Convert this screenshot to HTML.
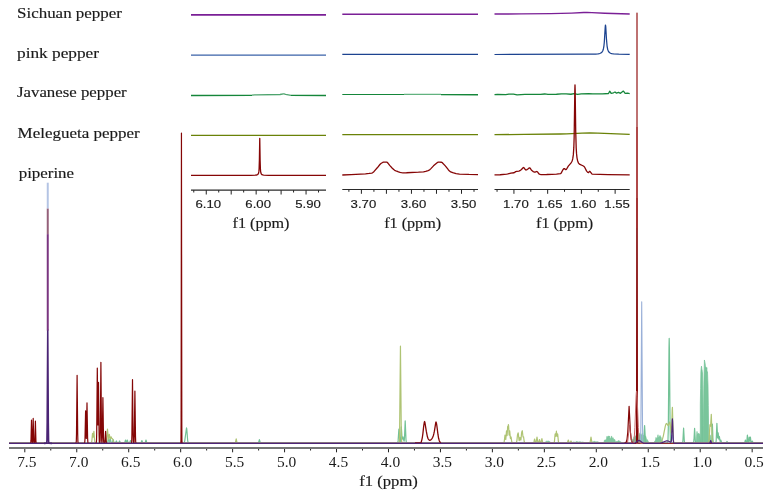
<!DOCTYPE html>
<html><head><meta charset="utf-8"><style>
html,body{margin:0;padding:0;background:#fff;width:769px;height:495px;overflow:hidden;}
svg{display:block;will-change:transform;}
</style></head><body>
<svg width="769" height="495" viewBox="0 0 769 495">
<rect width="769" height="495" fill="#fff"/>
<text x="17.0" y="18.3" font-family="Liberation Serif" font-size="14.3" fill="#1a1a1a" stroke="#1a1a1a" stroke-width="0.15" textLength="105.0" lengthAdjust="spacingAndGlyphs">Sichuan pepper</text>
<text x="17.0" y="57.6" font-family="Liberation Serif" font-size="14.3" fill="#1a1a1a" stroke="#1a1a1a" stroke-width="0.15" textLength="82.0" lengthAdjust="spacingAndGlyphs">pink pepper</text>
<text x="17.0" y="97.4" font-family="Liberation Serif" font-size="14.3" fill="#1a1a1a" stroke="#1a1a1a" stroke-width="0.15" textLength="109.7" lengthAdjust="spacingAndGlyphs">Javanese pepper</text>
<text x="17.6" y="138.1" font-family="Liberation Serif" font-size="14.3" fill="#1a1a1a" stroke="#1a1a1a" stroke-width="0.15" textLength="122.0" lengthAdjust="spacingAndGlyphs">Melegueta pepper</text>
<text x="18.7" y="177.8" font-family="Liberation Serif" font-size="14.3" fill="#1a1a1a" stroke="#1a1a1a" stroke-width="0.15" textLength="55.4" lengthAdjust="spacingAndGlyphs">piperine</text>
<path d="M191.00,14.90 L326.00,14.90" fill="none" stroke="#7a1f96" stroke-width="1.8" stroke-linejoin="round" />
<path d="M191.00,55.10 L326.00,55.10" fill="none" stroke="#3a62a8" stroke-width="1.35" stroke-linejoin="round" />
<path d="M191.00,95.50 L252.00,95.40" fill="none" stroke="#15863a" stroke-width="1.3" stroke-linejoin="round" />
<path d="M291.00,95.40 L326.00,95.50" fill="none" stroke="#15863a" stroke-width="1.3" stroke-linejoin="round" />
<path d="M252.00,95.20 L254.80,94.87 L256.60,94.78 L280.00,94.50 L283.40,93.80 L284.00,93.86 L285.60,94.32 L291.00,95.30" fill="none" stroke="#4ea46e" stroke-width="1.3" stroke-linejoin="round" />
<path d="M191.00,135.40 L326.00,135.40" fill="none" stroke="#6a8208" stroke-width="1.3" stroke-linejoin="round" />
<path d="M191.00,175.40 L250.80,175.31 L255.60,175.16 L256.71,174.99 L257.47,174.72 L258.15,174.09 L258.59,173.03 L258.91,171.16 L259.11,168.68 L259.39,160.19 L259.75,138.35 L260.11,160.18 L260.40,168.85 L260.63,171.50 L260.91,173.03 L261.35,174.09 L262.00,174.70 L262.71,174.97 L263.80,175.14 L268.40,175.30 L326.00,175.30" fill="none" stroke="#860606" stroke-width="1.3" stroke-linejoin="round" />
<line x1="191.0" y1="190.2" x2="326.0" y2="190.2" stroke="#2a2a2a" stroke-width="1.2"/>
<line x1="318.52" y1="190.2" x2="318.52" y2="192.5" stroke="#222" stroke-width="1"/>
<line x1="306.05" y1="190.2" x2="306.05" y2="194.5" stroke="#222" stroke-width="1"/>
<line x1="293.57" y1="190.2" x2="293.57" y2="192.5" stroke="#222" stroke-width="1"/>
<line x1="281.10" y1="190.2" x2="281.10" y2="194.5" stroke="#222" stroke-width="1"/>
<line x1="268.62" y1="190.2" x2="268.62" y2="192.5" stroke="#222" stroke-width="1"/>
<line x1="256.15" y1="190.2" x2="256.15" y2="194.5" stroke="#222" stroke-width="1"/>
<line x1="243.67" y1="190.2" x2="243.67" y2="192.5" stroke="#222" stroke-width="1"/>
<line x1="231.20" y1="190.2" x2="231.20" y2="194.5" stroke="#222" stroke-width="1"/>
<line x1="218.72" y1="190.2" x2="218.72" y2="192.5" stroke="#222" stroke-width="1"/>
<line x1="206.25" y1="190.2" x2="206.25" y2="194.5" stroke="#222" stroke-width="1"/>
<line x1="193.77" y1="190.2" x2="193.77" y2="192.5" stroke="#222" stroke-width="1"/>
<text x="208.25" y="207.6" text-anchor="middle" font-family="Liberation Sans" font-size="10.5" fill="#1a1a1a" stroke="#1a1a1a" stroke-width="0.15" textLength="25.6" lengthAdjust="spacingAndGlyphs">6.10</text>
<text x="258.15" y="207.6" text-anchor="middle" font-family="Liberation Sans" font-size="10.5" fill="#1a1a1a" stroke="#1a1a1a" stroke-width="0.15" textLength="25.6" lengthAdjust="spacingAndGlyphs">6.00</text>
<text x="308.05" y="207.6" text-anchor="middle" font-family="Liberation Sans" font-size="10.5" fill="#1a1a1a" stroke="#1a1a1a" stroke-width="0.15" textLength="25.6" lengthAdjust="spacingAndGlyphs">5.90</text>
<text x="261.00" y="228.4" text-anchor="middle" font-family="Liberation Serif" font-size="14" fill="#1a1a1a" stroke="#1a1a1a" stroke-width="0.15" textLength="57" lengthAdjust="spacingAndGlyphs">f1 (ppm)</text>
<path d="M342.30,14.20 L478.00,14.20" fill="none" stroke="#7a1f96" stroke-width="1.6" stroke-linejoin="round" />
<path d="M342.30,54.40 L478.00,54.40" fill="none" stroke="#1c4390" stroke-width="1.2" stroke-linejoin="round" />
<path d="M342.30,94.50 L404.00,94.50" fill="none" stroke="#15863a" stroke-width="1.2" stroke-linejoin="round" />
<path d="M404.00,94.30 L441.00,94.30" fill="none" stroke="#62b27f" stroke-width="1.3" stroke-linejoin="round" />
<path d="M441.00,94.60 L478.00,94.70" fill="none" stroke="#15863a" stroke-width="1.4" stroke-linejoin="round" />
<path d="M342.30,134.60 L478.00,134.60" fill="none" stroke="#6a8208" stroke-width="1.3" stroke-linejoin="round" />
<path d="M342.30,175.00 L351.10,174.63 L365.50,173.79 L369.10,173.47 L371.90,173.05 L372.90,172.53 L374.10,171.42 L377.50,167.54 L379.90,164.53 L380.70,163.70 L381.30,163.22 L382.70,162.45 L383.50,162.16 L384.10,162.10 L386.70,162.20 L387.30,162.45 L388.10,163.27 L389.70,165.39 L392.30,168.19 L393.70,169.55 L394.70,170.29 L396.70,171.22 L398.50,171.93 L400.10,172.42 L401.50,172.70 L402.90,172.80 L406.50,172.74 L418.50,172.22 L423.50,171.82 L425.70,171.40 L428.10,170.56 L429.10,170.10 L429.70,169.71 L430.90,168.61 L433.50,165.83 L437.10,162.70 L437.70,162.35 L438.30,162.14 L439.50,162.11 L441.50,162.23 L442.30,162.68 L445.30,165.85 L448.30,169.72 L449.50,171.06 L450.70,171.96 L452.70,172.70 L456.10,173.60 L459.50,174.07 L468.90,174.47 L478.00,174.60" fill="none" stroke="#860606" stroke-width="1.3" stroke-linejoin="round" />
<line x1="342.3" y1="189.5" x2="478.0" y2="189.5" stroke="#2a2a2a" stroke-width="1.2"/>
<line x1="474.01" y1="189.5" x2="474.01" y2="191.8" stroke="#222" stroke-width="1"/>
<line x1="461.50" y1="189.5" x2="461.50" y2="193.8" stroke="#222" stroke-width="1"/>
<line x1="448.99" y1="189.5" x2="448.99" y2="191.8" stroke="#222" stroke-width="1"/>
<line x1="436.47" y1="189.5" x2="436.47" y2="193.8" stroke="#222" stroke-width="1"/>
<line x1="423.96" y1="189.5" x2="423.96" y2="191.8" stroke="#222" stroke-width="1"/>
<line x1="411.45" y1="189.5" x2="411.45" y2="193.8" stroke="#222" stroke-width="1"/>
<line x1="398.94" y1="189.5" x2="398.94" y2="191.8" stroke="#222" stroke-width="1"/>
<line x1="386.42" y1="189.5" x2="386.42" y2="193.8" stroke="#222" stroke-width="1"/>
<line x1="373.91" y1="189.5" x2="373.91" y2="191.8" stroke="#222" stroke-width="1"/>
<line x1="361.40" y1="189.5" x2="361.40" y2="193.8" stroke="#222" stroke-width="1"/>
<line x1="348.89" y1="189.5" x2="348.89" y2="191.8" stroke="#222" stroke-width="1"/>
<text x="363.40" y="207.6" text-anchor="middle" font-family="Liberation Sans" font-size="10.5" fill="#1a1a1a" stroke="#1a1a1a" stroke-width="0.15" textLength="25.6" lengthAdjust="spacingAndGlyphs">3.70</text>
<text x="413.45" y="207.6" text-anchor="middle" font-family="Liberation Sans" font-size="10.5" fill="#1a1a1a" stroke="#1a1a1a" stroke-width="0.15" textLength="25.6" lengthAdjust="spacingAndGlyphs">3.60</text>
<text x="463.50" y="207.6" text-anchor="middle" font-family="Liberation Sans" font-size="10.5" fill="#1a1a1a" stroke="#1a1a1a" stroke-width="0.15" textLength="25.6" lengthAdjust="spacingAndGlyphs">3.50</text>
<text x="412.65" y="228.4" text-anchor="middle" font-family="Liberation Serif" font-size="14" fill="#1a1a1a" stroke="#1a1a1a" stroke-width="0.15" textLength="57" lengthAdjust="spacingAndGlyphs">f1 (ppm)</text>
<path d="M494.50,14.00 L521.30,13.91 L550.70,13.64 L571.70,13.10 L583.70,12.57 L587.10,12.50 L591.90,12.59 L604.70,13.19 L629.70,14.00" fill="none" stroke="#7a1f96" stroke-width="1.4" stroke-linejoin="round" />
<path d="M494.50,54.50 L587.10,54.21 L595.50,54.01 L597.90,53.81 L599.50,53.52 L600.30,53.26 L601.10,52.87 L602.10,51.98 L602.54,51.31 L602.90,50.54 L603.50,48.46 L603.94,45.78 L604.30,42.31 L605.22,27.15 L605.38,25.44 L605.50,25.02 L605.74,26.62 L606.50,39.67 L607.06,45.79 L607.42,48.07 L607.82,49.73 L608.34,51.09 L608.94,52.05 L609.70,52.76 L610.70,53.29 L611.90,53.64 L613.50,53.89 L618.70,54.19 L629.70,54.35" fill="none" stroke="#1c4390" stroke-width="1.25" stroke-linejoin="round" />
<path d="M494.50,94.60 L497.50,94.34 L505.70,94.61 L508.90,94.04 L513.50,94.21 L517.10,94.84 L524.90,94.46 L532.90,94.28 L540.50,94.42 L544.70,93.98 L547.90,94.45 L551.90,94.29 L556.50,94.24 L561.50,93.91 L566.10,93.92 L570.90,94.26 L574.10,93.57 L577.50,94.28 L581.30,93.95 L588.70,93.63 L592.90,93.80 L602.50,93.96 L608.50,93.50 L609.70,91.19 L609.90,91.19 L610.90,93.11 L611.10,93.28 L613.50,92.80 L614.90,92.05 L615.10,92.08 L616.50,93.20 L618.50,92.40 L620.50,93.30 L623.30,91.08 L623.50,91.13 L625.10,93.27 L625.30,93.39 L627.50,93.23 L629.70,93.60" fill="none" stroke="#15863a" stroke-width="1.3" stroke-linejoin="round" />
<path d="M494.50,134.60 L524.50,134.45 L560.30,134.00 L566.70,133.81 L582.10,133.15 L589.70,133.00 L597.90,133.15 L629.70,134.30" fill="none" stroke="#6a8208" stroke-width="1.3" stroke-linejoin="round" />
<path d="M494.50,174.89 L500.10,174.74 L506.70,174.19 L507.90,173.97 L510.90,173.16 L514.10,172.77 L515.70,171.63 L516.70,171.38 L518.90,171.05 L519.90,170.72 L521.50,169.51 L522.90,167.80 L523.50,167.49 L523.70,167.54 L524.10,167.88 L525.30,169.60 L525.70,169.94 L525.90,169.99 L526.30,169.92 L526.90,169.61 L527.90,168.95 L529.10,167.91 L529.50,167.79 L529.70,167.84 L530.10,168.23 L531.30,169.99 L532.50,171.04 L533.30,171.59 L534.50,172.10 L535.10,172.18 L536.50,171.53 L536.90,171.49 L537.50,171.97 L538.90,173.85 L540.10,174.37 L541.10,174.57 L546.70,174.52 L551.90,174.35 L556.50,174.06 L560.50,173.64 L560.90,173.37 L561.30,172.85 L562.90,169.82 L563.70,168.74 L564.10,168.56 L564.30,168.59 L565.70,169.63 L566.10,169.60 L566.50,169.25 L568.30,166.11 L570.90,163.08 L571.88,161.50 L572.36,160.25 L572.72,158.89 L573.32,154.88 L573.80,147.91 L574.16,136.99 L574.84,90.03 L575.00,84.80 L575.16,90.03 L575.72,131.38 L576.20,148.10 L576.56,153.90 L577.04,158.07 L577.68,161.00 L578.08,162.13 L578.56,163.09 L579.10,163.82 L579.90,164.47 L582.90,165.75 L583.70,166.25 L584.30,166.76 L584.90,167.69 L586.50,170.89 L587.30,171.90 L587.90,172.49 L588.30,172.64 L588.50,172.56 L589.30,171.54 L589.50,171.39 L589.70,171.38 L590.30,171.82 L591.70,173.74 L592.30,174.11 L599.70,174.47 L608.10,174.71 L629.70,174.89" fill="none" stroke="#860606" stroke-width="1.3" stroke-linejoin="round" />
<line x1="494.5" y1="189.5" x2="629.7" y2="189.5" stroke="#2a2a2a" stroke-width="1.2"/>
<line x1="615.13" y1="189.5" x2="615.13" y2="193.8" stroke="#222" stroke-width="1"/>
<line x1="598.27" y1="189.5" x2="598.27" y2="191.8" stroke="#222" stroke-width="1"/>
<line x1="581.40" y1="189.5" x2="581.40" y2="193.8" stroke="#222" stroke-width="1"/>
<line x1="564.53" y1="189.5" x2="564.53" y2="191.8" stroke="#222" stroke-width="1"/>
<line x1="547.66" y1="189.5" x2="547.66" y2="193.8" stroke="#222" stroke-width="1"/>
<line x1="530.80" y1="189.5" x2="530.80" y2="191.8" stroke="#222" stroke-width="1"/>
<line x1="513.93" y1="189.5" x2="513.93" y2="193.8" stroke="#222" stroke-width="1"/>
<line x1="497.06" y1="189.5" x2="497.06" y2="191.8" stroke="#222" stroke-width="1"/>
<text x="515.93" y="207.6" text-anchor="middle" font-family="Liberation Sans" font-size="10.5" fill="#1a1a1a" stroke="#1a1a1a" stroke-width="0.15" textLength="25.6" lengthAdjust="spacingAndGlyphs">1.70</text>
<text x="549.67" y="207.6" text-anchor="middle" font-family="Liberation Sans" font-size="10.5" fill="#1a1a1a" stroke="#1a1a1a" stroke-width="0.15" textLength="25.6" lengthAdjust="spacingAndGlyphs">1.65</text>
<text x="583.40" y="207.6" text-anchor="middle" font-family="Liberation Sans" font-size="10.5" fill="#1a1a1a" stroke="#1a1a1a" stroke-width="0.15" textLength="25.6" lengthAdjust="spacingAndGlyphs">1.60</text>
<text x="617.13" y="207.6" text-anchor="middle" font-family="Liberation Sans" font-size="10.5" fill="#1a1a1a" stroke="#1a1a1a" stroke-width="0.15" textLength="25.6" lengthAdjust="spacingAndGlyphs">1.55</text>
<text x="564.60" y="228.4" text-anchor="middle" font-family="Liberation Serif" font-size="14" fill="#1a1a1a" stroke="#1a1a1a" stroke-width="0.15" textLength="57" lengthAdjust="spacingAndGlyphs">f1 (ppm)</text>
<path d="M9.00,442.75 L107.00,442.75 L107.40,442.64 L107.70,442.11 L108.50,438.00 L109.30,441.94 L109.40,442.07 L109.60,441.83 L110.30,439.00 L111.10,442.24 L111.30,442.59 L111.70,442.74 L112.20,442.70 L112.50,442.32 L113.20,439.60 L113.90,442.32 L114.10,442.63 L114.50,442.75 L115.60,442.62 L116.40,441.00 L117.00,442.35 L117.40,442.72 L118.80,442.62 L119.60,441.00 L120.20,442.35 L120.50,442.69 L124.40,442.73 L124.80,442.38 L125.50,440.00 L126.30,442.50 L126.50,442.50 L126.70,442.11 L127.30,440.00 L128.00,442.38 L128.20,442.65 L128.60,442.75 L129.40,442.73 L129.70,442.58 L130.50,440.50 L131.20,442.45 L131.60,442.73 L140.80,442.73 L141.20,442.45 L141.90,440.50 L142.50,442.23 L142.80,442.67 L144.90,442.73 L145.30,442.38 L146.00,440.00 L146.70,442.38 L146.90,442.65 L147.20,442.74 L183.70,442.74 L184.30,442.42 L184.70,441.11 L186.50,427.96 L186.80,429.22 L187.70,440.82 L188.10,442.40 L188.70,442.74 L258.00,442.74 L258.40,442.61 L258.60,442.32 L259.40,439.60 L260.20,442.32 L260.50,442.68 L260.90,442.75 L397.30,442.75 L397.60,442.68 L397.80,442.44 L398.10,440.89 L398.90,429.00 L399.70,440.88 L400.00,442.36 L400.20,442.32 L400.30,442.03 L400.60,439.34 L401.30,426.90 L402.10,438.75 L402.30,439.15 L402.80,437.30 L403.00,437.00 L403.10,437.08 L403.90,440.77 L404.10,441.18 L404.20,441.01 L404.50,437.77 L405.20,420.89 L406.00,439.79 L406.30,442.25 L406.50,442.64 L406.80,442.74 L643.00,442.74 L643.30,442.66 L643.50,442.36 L643.80,440.43 L644.60,425.60 L645.40,440.43 L645.60,442.00 L645.90,442.66 L667.30,442.74 L667.60,442.56 L667.80,441.92 L668.00,439.77 L668.30,428.63 L669.00,348.21 L669.20,338.40 L669.40,348.21 L670.10,428.63 L670.40,439.77 L670.60,441.92 L670.80,442.56 L671.40,442.75 L682.50,442.65 L682.70,442.21 L682.90,440.77 L683.60,428.10 L684.30,440.77 L684.50,442.21 L684.80,442.71 L693.10,442.75 L693.60,442.51 L694.00,439.45 L694.60,428.40 L695.30,440.81 L695.50,442.22 L695.70,442.65 L711.30,442.73 L711.60,442.22 L711.80,440.24 L712.40,424.20 L712.90,438.12 L713.20,442.22 L713.50,442.73 L715.70,442.70 L716.00,442.04 L716.20,440.12 L716.90,423.29 L717.60,437.87 L718.20,432.96 L718.80,439.07 L718.90,439.18 L719.00,438.78 L719.40,436.47 L720.10,441.31 L720.20,441.40 L720.30,441.26 L720.80,440.00 L721.50,442.16 L721.90,442.69 L725.90,442.72 L726.30,442.48 L727.00,441.50 L727.80,442.58 L728.30,442.74 L744.40,442.74 L744.80,442.38 L745.40,440.00 L746.00,442.38 L746.40,442.71 L746.60,442.53 L746.80,441.70 L747.40,435.00 L748.00,441.70 L748.30,442.60 L748.60,441.97 L749.20,437.00 L749.80,441.19 L750.40,437.00 L751.00,441.97 L751.30,442.68 L751.70,442.51 L752.30,441.00 L752.90,442.51 L753.20,442.73 L763.00,442.75" fill="none" stroke="#72c296" stroke-width="1.2" stroke-linejoin="round" />
<path d="M102.50,442.75 L103.00,441.75 L103.50,441.35 L104.00,440.05 L104.50,440.94 L105.00,439.99 L105.50,440.57 L106.00,441.48 L106.50,441.59 L107.00,442.75 Z" fill="#72c296" fill-opacity="0.9" stroke="#72c296" stroke-width="0.6" stroke-linejoin="round"/>
<path d="M544.00,442.75 L544.50,442.43 L545.00,441.96 L545.50,442.00 L546.00,441.83 L546.50,441.34 L547.00,440.76 L547.50,441.58 L548.00,441.49 L548.50,441.10 L549.00,440.96 L549.50,441.57 L550.00,441.98 L550.50,442.08 L551.00,442.75 Z" fill="#72c296" fill-opacity="0.9" stroke="#72c296" stroke-width="0.6" stroke-linejoin="round"/>
<path d="M603.50,442.75 L604.00,441.94 L604.50,440.04 L605.00,440.30 L605.50,440.11 L606.00,439.74 L606.50,438.65 L607.00,436.22 L607.50,438.46 L608.00,436.39 L608.50,435.86 L609.00,436.97 L609.50,436.04 L610.00,438.42 L610.50,438.49 L611.00,437.91 L611.50,435.94 L612.00,437.39 L612.50,438.23 L613.00,437.65 L613.50,438.66 L614.00,439.68 L614.50,439.18 L615.00,440.30 L615.50,441.76 L616.00,442.75 Z" fill="#72c296" fill-opacity="0.9" stroke="#72c296" stroke-width="0.6" stroke-linejoin="round"/>
<path d="M631.00,442.75 L631.50,441.58 L632.00,440.79 L632.50,439.35 L633.00,438.87 L633.50,439.47 L634.00,436.64 L634.50,439.20 L635.00,437.62 L635.50,435.69 L636.00,438.12 L636.50,436.16 L637.00,438.23 L637.50,434.63 L638.00,433.85 L638.50,434.75 L639.00,432.86 L639.50,436.08 L640.00,433.80 L640.50,434.42 L641.00,434.58 L641.50,435.42 L642.00,433.42 L642.50,433.12 L643.00,435.94 L643.50,435.28 L644.00,438.55 L644.50,435.94 L645.00,436.67 L645.50,435.89 L646.00,437.18 L646.50,439.48 L647.00,439.73 L647.50,439.77 L648.00,441.52 L648.50,441.68 L649.00,442.75 Z" fill="#72c296" fill-opacity="0.9" stroke="#72c296" stroke-width="0.6" stroke-linejoin="round"/>
<path d="M654.00,442.75 L654.50,441.58 L655.00,440.84 L655.50,440.33 L656.00,437.39 L656.50,439.07 L657.00,438.18 L657.50,437.21 L658.00,434.72 L658.50,438.42 L659.00,436.73 L659.50,436.49 L660.00,435.45 L660.50,436.38 L661.00,437.07 L661.50,439.72 L662.00,440.23 L662.50,441.35 L663.00,442.75 Z" fill="#72c296" fill-opacity="0.9" stroke="#72c296" stroke-width="0.6" stroke-linejoin="round"/>
<path d="M696.00,442.75 L696.50,436.21 L697.00,431.43 L697.50,434.88 L698.00,433.74 L698.50,433.15 L699.00,433.94 L699.50,433.91 L700.00,436.54 L700.50,441.59 L700.60,442.75 Z" fill="#72c296" fill-opacity="0.9" stroke="#72c296" stroke-width="0.6" stroke-linejoin="round"/>
<path d="M708.30,442.75 L708.80,439.18 L709.30,434.65 L709.80,434.52 L710.30,435.22 L710.80,438.91 L711.00,442.75 Z" fill="#72c296" fill-opacity="0.9" stroke="#72c296" stroke-width="0.6" stroke-linejoin="round"/>
<path d="M615.00,442.75 L615.50,442.19 L616.00,441.90 L616.50,441.53 L617.00,441.23 L617.50,441.76 L618.00,440.67 L618.50,440.77 L619.00,440.70 L619.50,440.91 L620.00,441.52 L620.50,441.72 L621.00,442.17 L621.50,442.21 L622.00,442.75 Z" fill="#72c296" fill-opacity="0.9" stroke="#72c296" stroke-width="0.6" stroke-linejoin="round"/>
<path d="M588.00,442.75 L588.50,442.58 L589.00,442.46 L589.50,442.29 L590.00,442.21 L590.50,442.00 L591.00,442.11 L591.50,442.10 L592.00,441.92 L592.50,441.92 L593.00,441.64 L593.50,441.94 L594.00,441.12 L594.50,441.38 L595.00,441.84 L595.50,441.78 L596.00,441.75 L596.50,441.80 L597.00,442.06 L597.50,441.67 L598.00,441.75 L598.50,442.18 L599.00,442.32 L599.50,442.58 L600.00,442.75 Z" fill="#72c296" fill-opacity="0.9" stroke="#72c296" stroke-width="0.6" stroke-linejoin="round"/>
<path d="M570.00,442.75 L570.50,442.65 L571.00,442.52 L571.50,442.46 L572.00,442.20 L572.50,442.36 L573.00,442.37 L573.50,441.87 L574.00,442.02 L574.50,442.19 L575.00,441.92 L575.50,442.21 L576.00,441.86 L576.50,441.54 L577.00,441.60 L577.50,441.71 L578.00,442.01 L578.50,441.95 L579.00,442.10 L579.50,441.73 L580.00,441.92 L580.50,441.82 L581.00,442.13 L581.50,442.23 L582.00,442.02 L582.50,442.04 L583.00,442.19 L583.50,442.31 L584.00,442.43 L584.50,442.57 L585.00,442.75 Z" fill="#72c296" fill-opacity="0.9" stroke="#72c296" stroke-width="0.6" stroke-linejoin="round"/>
<path d="M700.30,442.75 L700.30,404.48 L700.60,388.55 L700.90,371.49 L701.20,368.24 L701.50,366.13 L701.80,368.65 L702.00,369.63 L702.30,371.61 L702.50,372.83 L702.80,388.91 L702.90,396.04 L703.10,427.00 L703.10,442.75 Z" fill="#72c296" fill-opacity="0.95" stroke="#72c296" stroke-width="0.7" stroke-linejoin="round"/>
<path d="M703.40,442.75 L703.40,425.43 L703.70,401.95 L703.90,384.61 L704.20,369.65 L704.40,359.98 L704.70,361.33 L705.00,362.84 L705.30,365.14 L705.50,366.65 L705.80,367.54 L706.00,366.92 L706.30,368.12 L706.50,369.02 L706.80,367.63 L707.00,370.58 L707.30,372.08 L707.50,372.01 L707.80,380.19 L708.00,384.94 L708.30,405.41 L708.50,420.00 L708.50,442.75 Z" fill="#72c296" fill-opacity="0.95" stroke="#72c296" stroke-width="0.7" stroke-linejoin="round"/>
<path d="M9.00,442.75 L91.20,442.73 L91.60,442.34 L91.80,441.48 L92.50,433.66 L92.60,433.34 L92.70,433.56 L93.20,437.24 L93.90,431.25 L94.60,440.27 L94.80,441.84 L95.10,442.62 L95.60,442.75 L105.90,442.73 L106.30,442.36 L106.60,440.92 L107.30,430.47 L107.50,429.19 L108.40,439.28 L108.60,438.97 L109.30,434.39 L110.20,438.75 L110.40,438.52 L110.90,436.92 L111.10,436.82 L111.80,438.49 L112.00,438.67 L112.40,438.67 L112.60,438.89 L113.70,442.24 L114.10,442.64 L114.60,442.74 L234.90,442.75 L235.30,442.61 L235.50,442.22 L236.20,438.80 L236.90,442.22 L237.20,442.68 L237.60,442.75 L398.80,442.73 L399.10,442.43 L399.30,441.20 L399.60,432.65 L400.45,346.20 L401.30,432.65 L401.60,441.20 L401.80,442.43 L402.10,442.73 L503.60,442.73 L504.00,442.41 L504.20,441.70 L505.00,434.99 L505.60,439.30 L505.70,439.48 L505.80,439.16 L506.50,430.95 L507.10,435.54 L507.70,426.64 L507.80,426.26 L508.00,426.49 L508.10,426.35 L508.40,424.61 L508.60,425.86 L509.10,435.08 L509.20,435.10 L509.70,430.92 L510.40,438.34 L510.50,438.53 L510.60,438.33 L510.90,437.05 L511.00,436.94 L511.10,437.15 L511.80,441.97 L512.00,442.50 L512.40,442.74 L516.00,442.74 L516.50,442.46 L516.90,440.57 L517.50,434.93 L518.00,433.17 L518.20,432.92 L519.10,440.54 L519.20,440.60 L519.30,440.40 L519.80,437.90 L520.00,437.50 L520.80,440.14 L521.00,439.27 L521.60,432.85 L521.90,431.58 L522.30,430.73 L523.00,436.71 L523.10,437.00 L523.50,436.76 L523.60,437.06 L524.30,441.97 L524.50,442.50 L524.90,442.74 L533.40,442.71 L533.70,442.45 L533.90,441.94 L534.60,439.00 L535.40,442.24 L535.60,442.57 L535.90,442.60 L536.30,441.55 L537.00,437.20 L537.70,441.55 L537.90,442.31 L538.20,442.67 L538.50,442.60 L538.70,442.31 L539.50,439.50 L540.30,442.31 L540.60,442.65 L540.90,442.56 L541.20,441.83 L541.90,438.50 L542.60,441.83 L542.80,442.41 L543.10,442.70 L553.90,442.71 L554.20,442.37 L554.40,441.57 L555.10,434.21 L555.20,433.87 L555.30,434.01 L555.60,435.91 L555.70,436.29 L555.80,436.22 L556.40,431.21 L557.00,436.22 L557.10,436.29 L557.20,435.91 L557.50,434.01 L557.60,433.87 L557.70,434.21 L558.40,441.57 L558.70,442.55 L559.10,442.74 L567.10,442.72 L567.60,442.16 L568.30,440.00 L569.10,442.38 L569.60,442.73 L570.20,442.51 L571.00,441.00 L571.80,442.51 L572.30,442.74 L589.70,442.72 L590.00,442.50 L590.20,441.97 L591.00,437.00 L591.80,441.97 L592.00,442.50 L592.40,442.74 L659.30,442.66 L660.30,442.39 L661.00,441.90 L661.70,440.97 L662.30,439.64 L663.30,436.07 L665.30,426.16 L665.80,424.45 L666.30,423.56 L666.50,423.47 L666.80,423.59 L667.80,425.27 L668.20,425.55 L668.60,425.01 L669.40,422.36 L669.60,422.00 L669.80,422.04 L670.30,424.32 L671.10,432.01 L671.30,432.92 L671.40,432.72 L671.70,427.94 L672.20,409.92 L672.40,407.34 L673.30,437.92 L673.60,441.65 L673.80,442.39 L674.10,442.67 L707.50,442.75 L708.40,442.64 L708.80,441.75 L709.10,439.24 L709.90,425.13 L710.10,424.56 L710.40,426.11 L710.50,426.27 L710.60,425.83 L711.30,414.40 L712.20,438.99 L712.50,441.96 L712.90,442.70 L763.00,442.75" fill="none" stroke="#afc474" stroke-width="1.2" stroke-linejoin="round" />
<path d="M9.00,443.15 L640.00,443.13 L640.20,443.03 L640.40,442.43 L640.60,439.93 L640.90,424.02 L641.70,301.80 L642.50,424.02 L642.80,439.93 L643.00,442.43 L643.20,443.03 L643.80,443.15 L670.80,443.10 L671.10,442.87 L671.40,442.05 L672.20,435.63 L672.40,435.00 L672.60,435.63 L673.40,442.05 L673.70,442.87 L674.20,443.14 L763.00,443.15" fill="none" stroke="#9ab0d8" stroke-width="1.1" stroke-linejoin="round" />
<path d="M9.00,443.30 L30.30,443.30 L30.70,443.16 L31.00,440.16 L31.50,420.10 L32.00,440.16 L32.20,442.83 L32.40,443.12 L32.70,439.93 L33.20,418.40 L33.70,439.93 L33.90,442.81 L34.10,443.26 L34.60,443.17 L34.80,442.06 L35.40,421.20 L35.90,440.31 L36.10,442.86 L36.30,443.27 L76.00,443.22 L76.30,441.36 L76.50,434.10 L77.10,375.30 L77.70,434.10 L77.90,441.36 L78.10,443.04 L78.50,443.30 L84.20,443.30 L84.50,443.26 L84.70,442.94 L85.00,438.90 L85.60,410.80 L86.10,434.75 L86.30,438.51 L87.00,402.90 L87.60,437.83 L87.90,442.85 L88.00,443.14 L88.30,443.30 L96.20,443.21 L96.50,441.15 L96.70,433.12 L97.30,368.08 L97.90,424.87 L98.50,382.27 L99.10,435.04 L99.30,441.56 L99.50,443.06 L99.60,443.22 L99.80,443.20 L100.10,440.99 L100.30,432.34 L100.90,362.30 L101.50,432.34 L101.70,440.97 L101.90,442.81 L102.10,441.97 L102.30,437.13 L102.90,397.70 L103.50,437.13 L103.70,442.00 L103.90,443.12 L104.10,443.28 L104.60,443.25 L104.90,442.52 L105.60,431.40 L106.20,441.69 L106.40,442.96 L106.60,443.25 L131.00,443.30 L131.30,443.28 L131.50,443.05 L131.70,441.48 L131.90,434.69 L132.50,379.70 L133.10,434.69 L133.30,441.48 L133.60,443.22 L133.90,443.10 L134.10,441.81 L134.30,436.22 L134.90,391.00 L135.50,436.22 L135.70,441.81 L136.00,443.24 L180.80,443.27 L181.00,439.85 L181.10,422.91 L181.45,133.10 L181.80,422.91 L181.90,439.85 L182.10,443.27 L636.20,443.29 L636.40,442.45 L636.50,437.61 L636.60,416.29 L637.00,13.00 L637.40,416.29 L637.50,437.61 L637.70,443.21 L763.00,443.30" fill="none" stroke="#840606" stroke-width="1.2" stroke-linejoin="round" />
<path d="M624.50,443.30 L626.00,442.60 L627.00,439.50 L627.80,432.00 L629.10,406.40 L630.40,432.00 L631.20,439.50 L632.20,442.60 L633.50,443.30" fill="none" stroke="#840606" stroke-width="1.2" stroke-linejoin="round" />
<path d="M627.50,443.00 L629.60,425.00 L631.80,443.00" fill="none" stroke="#b85050" stroke-width="0.9" stroke-linejoin="round" />
<path d="M415.00,443.00 L420.80,442.90 L421.10,442.51 L421.90,439.60 L422.40,437.02 L422.90,433.62 L423.70,426.00 L424.30,422.23 L424.60,421.50 L424.90,422.37 L426.30,431.20 L427.30,436.30 L427.90,438.23 L428.40,439.35 L429.20,440.06 L429.90,440.30 L430.30,440.20 L430.70,439.95 L431.80,438.85 L432.60,437.46 L433.30,435.74 L433.80,433.94 L434.40,431.20 L435.80,422.47 L436.00,422.00 L436.10,422.09 L436.40,423.14 L436.80,425.28 L438.00,434.73 L438.60,438.30 L439.20,440.43 L439.70,441.67 L440.40,442.63 L440.70,442.89 L441.00,443.00" fill="none" stroke="#840606" stroke-width="1.3" stroke-linejoin="round" />
<line x1="637.0" y1="13.0" x2="637.0" y2="127" stroke="#be7272" stroke-width="2"/>
<line x1="637.0" y1="127" x2="637.0" y2="198" stroke="#b04848" stroke-width="2"/>
<line x1="637.0" y1="198" x2="637.0" y2="228" stroke="#a43434" stroke-width="2"/>
<path d="M631.00,443.30 L632.60,443.23 L633.00,443.05 L633.30,442.72 L633.80,441.25 L634.20,438.46 L634.90,427.46 L636.10,396.13 L636.40,391.86 L636.60,391.00 L636.80,391.86 L637.10,396.13 L638.30,427.46 L638.70,434.85 L639.10,439.35 L639.50,441.68 L639.80,442.54 L640.10,442.97 L640.80,443.26 L643.00,443.30" fill="none" stroke="#c46a6a" stroke-width="1.0" stroke-linejoin="round" />
<path d="M9.00,443.35 L631.50,443.35 L633.70,443.26 L635.00,442.94 L636.10,442.30 L638.00,440.70 L639.00,440.35 L640.00,440.70 L642.50,442.70 L644.10,443.23 L646.40,443.35 L658.30,443.31 L660.10,443.17 L661.60,442.86 L665.30,441.22 L666.60,440.87 L668.20,441.04 L670.70,442.16 L671.10,442.00 L671.40,440.45 L671.60,437.61 L672.20,420.91 L672.40,418.71 L672.60,421.03 L673.30,439.81 L673.60,442.44 L673.80,442.97 L674.10,443.18 L677.80,443.35 L709.30,443.34 L709.70,443.22 L709.90,442.96 L710.70,440.50 L711.50,442.96 L711.70,443.22 L712.10,443.34 L763.00,443.35" fill="none" stroke="#4e2478" stroke-width="1.15" stroke-linejoin="round" />
<path d="M44.00,443.35 L46.60,443.28 L46.80,442.60 L46.95,440.11 L47.20,422.24 L47.75,330.00 L48.30,422.24 L48.55,440.11 L48.70,442.60 L48.90,443.28 L52.00,443.35" fill="none" stroke="#4a2475" stroke-width="1.6" stroke-linejoin="round" />
<line x1="47.75" y1="182.7" x2="47.75" y2="208.6" stroke="#b4c4e4" stroke-width="2"/>
<line x1="47.75" y1="208.6" x2="47.75" y2="234.1" stroke="#94607a" stroke-width="2"/>
<line x1="47.75" y1="234.1" x2="47.75" y2="330.5" stroke="#7a3580" stroke-width="2"/>
<rect x="9.0" y="447" width="754.0" height="2" fill="#757575"/>
<line x1="752.17" y1="449" x2="752.17" y2="452.3" stroke="#222" stroke-width="1"/>
<text x="754.17" y="466.8" text-anchor="middle" font-family="Liberation Serif" font-size="14.5" fill="#1a1a1a" textLength="19.3" lengthAdjust="spacingAndGlyphs">0.5</text>
<line x1="726.19" y1="449" x2="726.19" y2="450.5" stroke="#222" stroke-width="1"/>
<line x1="700.21" y1="449" x2="700.21" y2="452.3" stroke="#222" stroke-width="1"/>
<text x="702.21" y="466.8" text-anchor="middle" font-family="Liberation Serif" font-size="14.5" fill="#1a1a1a" textLength="19.3" lengthAdjust="spacingAndGlyphs">1.0</text>
<line x1="674.24" y1="449" x2="674.24" y2="450.5" stroke="#222" stroke-width="1"/>
<line x1="648.26" y1="449" x2="648.26" y2="452.3" stroke="#222" stroke-width="1"/>
<text x="650.26" y="466.8" text-anchor="middle" font-family="Liberation Serif" font-size="14.5" fill="#1a1a1a" textLength="19.3" lengthAdjust="spacingAndGlyphs">1.5</text>
<line x1="622.28" y1="449" x2="622.28" y2="450.5" stroke="#222" stroke-width="1"/>
<line x1="596.30" y1="449" x2="596.30" y2="452.3" stroke="#222" stroke-width="1"/>
<text x="598.30" y="466.8" text-anchor="middle" font-family="Liberation Serif" font-size="14.5" fill="#1a1a1a" textLength="19.3" lengthAdjust="spacingAndGlyphs">2.0</text>
<line x1="570.33" y1="449" x2="570.33" y2="450.5" stroke="#222" stroke-width="1"/>
<line x1="544.35" y1="449" x2="544.35" y2="452.3" stroke="#222" stroke-width="1"/>
<text x="546.35" y="466.8" text-anchor="middle" font-family="Liberation Serif" font-size="14.5" fill="#1a1a1a" textLength="19.3" lengthAdjust="spacingAndGlyphs">2.5</text>
<line x1="518.37" y1="449" x2="518.37" y2="450.5" stroke="#222" stroke-width="1"/>
<line x1="492.39" y1="449" x2="492.39" y2="452.3" stroke="#222" stroke-width="1"/>
<text x="494.39" y="466.8" text-anchor="middle" font-family="Liberation Serif" font-size="14.5" fill="#1a1a1a" textLength="19.3" lengthAdjust="spacingAndGlyphs">3.0</text>
<line x1="466.42" y1="449" x2="466.42" y2="450.5" stroke="#222" stroke-width="1"/>
<line x1="440.44" y1="449" x2="440.44" y2="452.3" stroke="#222" stroke-width="1"/>
<text x="442.44" y="466.8" text-anchor="middle" font-family="Liberation Serif" font-size="14.5" fill="#1a1a1a" textLength="19.3" lengthAdjust="spacingAndGlyphs">3.5</text>
<line x1="414.46" y1="449" x2="414.46" y2="450.5" stroke="#222" stroke-width="1"/>
<line x1="388.49" y1="449" x2="388.49" y2="452.3" stroke="#222" stroke-width="1"/>
<text x="390.49" y="466.8" text-anchor="middle" font-family="Liberation Serif" font-size="14.5" fill="#1a1a1a" textLength="19.3" lengthAdjust="spacingAndGlyphs">4.0</text>
<line x1="362.51" y1="449" x2="362.51" y2="450.5" stroke="#222" stroke-width="1"/>
<line x1="336.53" y1="449" x2="336.53" y2="452.3" stroke="#222" stroke-width="1"/>
<text x="338.53" y="466.8" text-anchor="middle" font-family="Liberation Serif" font-size="14.5" fill="#1a1a1a" textLength="19.3" lengthAdjust="spacingAndGlyphs">4.5</text>
<line x1="310.55" y1="449" x2="310.55" y2="450.5" stroke="#222" stroke-width="1"/>
<line x1="284.57" y1="449" x2="284.57" y2="452.3" stroke="#222" stroke-width="1"/>
<text x="286.57" y="466.8" text-anchor="middle" font-family="Liberation Serif" font-size="14.5" fill="#1a1a1a" textLength="19.3" lengthAdjust="spacingAndGlyphs">5.0</text>
<line x1="258.60" y1="449" x2="258.60" y2="450.5" stroke="#222" stroke-width="1"/>
<line x1="232.62" y1="449" x2="232.62" y2="452.3" stroke="#222" stroke-width="1"/>
<text x="234.62" y="466.8" text-anchor="middle" font-family="Liberation Serif" font-size="14.5" fill="#1a1a1a" textLength="19.3" lengthAdjust="spacingAndGlyphs">5.5</text>
<line x1="206.64" y1="449" x2="206.64" y2="450.5" stroke="#222" stroke-width="1"/>
<line x1="180.67" y1="449" x2="180.67" y2="452.3" stroke="#222" stroke-width="1"/>
<text x="182.67" y="466.8" text-anchor="middle" font-family="Liberation Serif" font-size="14.5" fill="#1a1a1a" textLength="19.3" lengthAdjust="spacingAndGlyphs">6.0</text>
<line x1="154.69" y1="449" x2="154.69" y2="450.5" stroke="#222" stroke-width="1"/>
<line x1="128.71" y1="449" x2="128.71" y2="452.3" stroke="#222" stroke-width="1"/>
<text x="130.71" y="466.8" text-anchor="middle" font-family="Liberation Serif" font-size="14.5" fill="#1a1a1a" textLength="19.3" lengthAdjust="spacingAndGlyphs">6.5</text>
<line x1="102.73" y1="449" x2="102.73" y2="450.5" stroke="#222" stroke-width="1"/>
<line x1="76.75" y1="449" x2="76.75" y2="452.3" stroke="#222" stroke-width="1"/>
<text x="78.75" y="466.8" text-anchor="middle" font-family="Liberation Serif" font-size="14.5" fill="#1a1a1a" textLength="19.3" lengthAdjust="spacingAndGlyphs">7.0</text>
<line x1="50.78" y1="449" x2="50.78" y2="450.5" stroke="#222" stroke-width="1"/>
<line x1="24.80" y1="449" x2="24.80" y2="452.3" stroke="#222" stroke-width="1"/>
<text x="26.80" y="466.8" text-anchor="middle" font-family="Liberation Serif" font-size="14.5" fill="#1a1a1a" textLength="19.3" lengthAdjust="spacingAndGlyphs">7.5</text>
<text x="388.6" y="486.2" text-anchor="middle" font-family="Liberation Serif" font-size="14" fill="#1a1a1a" stroke="#1a1a1a" stroke-width="0.15" textLength="58.5" lengthAdjust="spacingAndGlyphs">f1 (ppm)</text>
</svg>
</body></html>
